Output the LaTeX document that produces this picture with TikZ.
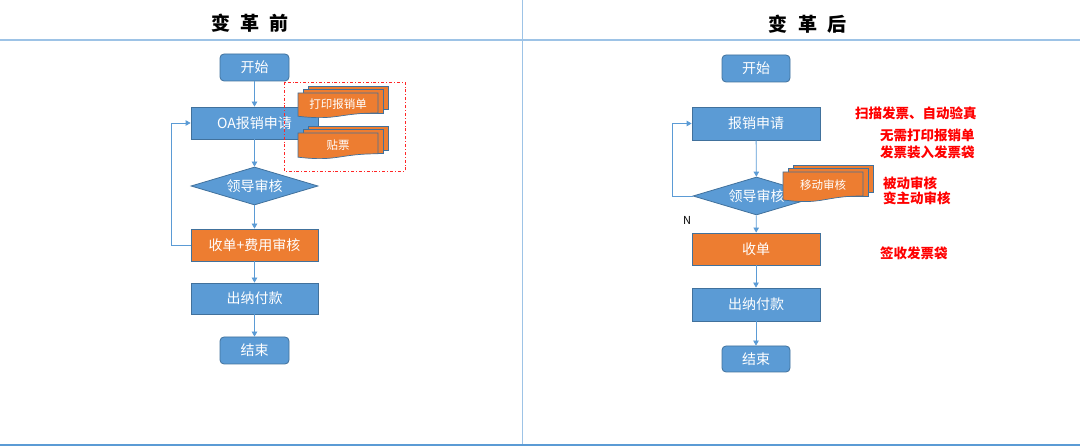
\documentclass[tikz,border=0pt]{standalone}
\usepackage{fontspec}
\setmainfont{Noto Sans CJK SC}
\usepackage{tikz}
\usetikzlibrary{shapes.geometric,arrows.meta,calc}
\definecolor{boxblue}{HTML}{5B9BD5}
\definecolor{boxedge}{HTML}{41719C}
\definecolor{boxorange}{HTML}{ED7D31}
\definecolor{rulecol}{HTML}{9DC3E6}
\tikzstyle{chart}=[
  x=1pt,y=-1pt,font=\fontsize{14}{16}\selectfont
]
\tikzstyle{procbox}=[
  draw=boxedge,fill=boxblue,text=white,line width=0.8pt,minimum width=127pt,minimum height=32pt,inner sep=0pt
]
\tikzstyle{termbox}=[
  procbox,rounded corners=4pt,minimum width=69pt,minimum height=27pt
]
\tikzstyle{orangebox}=[
  procbox,fill=boxorange
]
\tikzstyle{decision}=[
  procbox,diamond,aspect=3.3,minimum width=127pt,minimum height=38pt
]
\tikzstyle{link}=[
  draw=boxblue,line width=0.8pt,-{Triangle[length=5pt,width=5.5pt]}
]
\tikzstyle{doclayer}=[
  draw=boxedge,fill=boxorange,line width=0.7pt
]
\tikzstyle{doctext}=[
  text=white,font=\fontsize{11.5}{13}\selectfont,inner sep=0pt
]
\tikzstyle{note}=[
  text=red,font=\fontsize{13.5}{17}\selectfont\bfseries,align=left,anchor=west,inner sep=0pt
]
\tikzstyle{title}=[
  font=\fontsize{19}{21}\selectfont\bfseries,inner sep=0pt
]
\tikzstyle{rule}=[
  draw=rulecol,line width=1.2pt
]
% a stack of three sheets, the front one with a wavy lower edge
\newcommand{\docstack}[5]{%
  \filldraw[doclayer] ({#2+10},{#3-7}) rectangle ({#2+90},{#3+0.8*#4-3.5});
  \filldraw[doclayer] ({#2+5},{#3-3.5}) rectangle ({#2+85},{#3+0.8*#4});
  \filldraw[doclayer] ({#2},{#3}) -- ({#2+80},{#3}) -- ({#2+80},{#3+0.8*#4})
    .. controls ({#2+40},{#3+0.8*#4}) and ({#2+40},{#3+1.11*#4}) .. ({#2},{#3+0.93*#4}) -- cycle;
  \node (#1) at ({#2+40},{#3+0.45*#4}) [doctext] {#5};}

\begin{document}
\begin{tikzpicture}[chart]
  \useasboundingbox (0,0) rectangle (1080,446);
  \draw[rule] (0,40) -- (1080,40);
  \draw[rule] (522.5,0) -- (522.5,446);
  \draw[draw=boxblue,line width=1.5pt] (0,445) -- (1080,445);

  \node (title1) at (250,23) [title] {变\hspace{0.55em}革\hspace{0.55em}前};
  \node (title2) at (807.5,24.5) [title] {变\hspace{0.55em}革\hspace{0.55em}后};

  % before
  \node (start1) at (254.5,67.5) [termbox] {开始};
  \node (oa) at (254.5,123) [procbox] {OA报销申请};
  \node (lead1) at (254.5,186) [decision] {领导审核};
  \node (fee) at (254.5,245) [orangebox] {收单+费用审核};
  \node (pay1) at (254.5,298.5) [procbox,minimum height=31pt] {出纳付款};
  \node (end1) at (254.5,350.5) [termbox] {结束};
  \draw[link] (start1) -- (oa);
  \draw[link] (oa) -- (lead1);
  \draw[link] (lead1) -- (fee);
  \draw[link] (fee) -- (pay1);
  \draw[link] (pay1) -- (end1);
  \draw[link] (fee.west) -- ++(-19,0) |- (oa.west);
  \docstack{print1}{298}{93}{25}{打印报销单}
  \docstack{stick1}{298}{133}{26}{贴票}
  \draw[draw=red!85,line width=0.8pt,dash dot] (284,82) rectangle (405,171);

  % after
  \node (start2) at (756,68.5) [termbox,minimum width=68pt] {开始};
  \node (apply2) at (756,123.5) [procbox,minimum width=128pt,minimum height=33pt] {报销申请};
  \node (lead2) at (756.5,196) [decision] {领导审核};
  \node (recv2) at (756,249) [orangebox,minimum width=128pt] {收单};
  \node (pay2) at (756,304.5) [procbox,minimum width=128pt,minimum height=33pt] {出纳付款};
  \node (end2) at (756,359) [termbox,minimum width=68pt,minimum height=26pt] {结束};
  \draw[link] (apply2) -- (lead2);
  \draw[link] (lead2) -- (recv2);
  \draw[link] (recv2) -- (pay2);
  \draw[link] (pay2) -- (end2);
  \draw[link] (lead2.west) -- ++(-20,0) |- (apply2.west);
  \docstack{move2}{783}{172}{30}{移动审核}
  \node (nlabel) at (687,220.5) [font=\fontsize{11}{13}\selectfont] {N};

  \node (scan2) at (855,113) [note] {扫描发票、自动验真};
  \node (noprint2) at (880,144) [note] {无需打印报销单\\发票装入发票袋};
  \node (active2) at (883,190.5) [note,font=\fontsize{13.5}{15}\selectfont\bfseries] {被动审核\\变主动审核};
  \node (sign2) at (880,253) [note] {签收发票袋};
\end{tikzpicture}
\end{document}
